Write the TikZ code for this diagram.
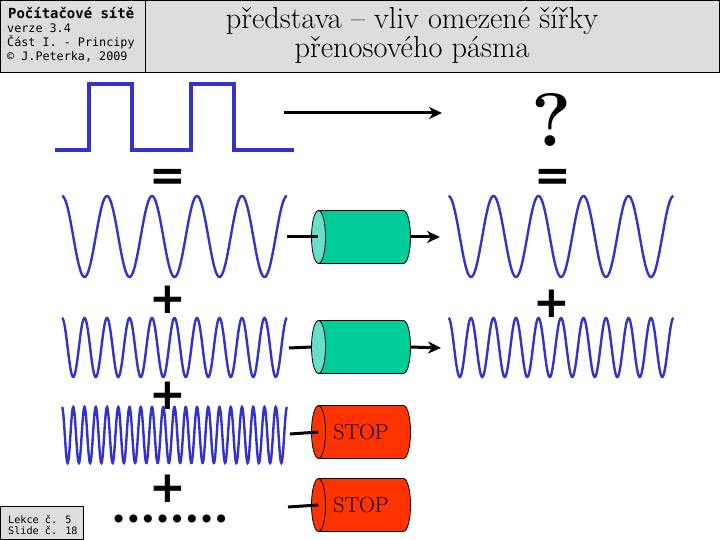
\documentclass[tikz,border=0pt]{standalone}
\usepackage{fontspec}
\usetikzlibrary{arrows.meta,positioning,calc}
\newfontfamily\monofont{DejaVu Sans Mono}
\newfontfamily\signfont{DejaVu Sans}
\definecolor{hdrgray}{HTML}{DDDDDD}
\definecolor{wave}{HTML}{3333CC}
\definecolor{pipe}{HTML}{00CC99}
\definecolor{pipeend}{HTML}{66E0C8}
\definecolor{stopred}{HTML}{FF3300}

\tikzset{
  hdrbox/.style={draw=black, line width=1.2bp, fill=hdrgray, inner sep=0pt},
  hdrline/.style={anchor=base west, inner sep=0pt, font=\monofont\fontsize{11.8}{14}\selectfont},
  titleline/.style={anchor=base, inner sep=0pt, font=\fontsize{30.5}{30}\selectfont},
  sqwave/.style={draw=wave, line width=3.3bp},
  sinwave/.style={draw=wave, line width=2.4bp},
  sign/.style={font=\signfont\bfseries\fontsize{44}{44}\selectfont, inner sep=0pt},
  pipeline/.style={draw=black, line width=0.8bp},
  chanlabel/.style={inner sep=0pt, minimum width=99bp, minimum height=53bp,
    font=\fontsize{22}{22}\selectfont},
  feed/.style={line width=3bp},
  pass/.style={line width=3bp, -{Stealth[length=13bp,width=12bp,inset=4bp]}},
}

% cylinder: name, centre, body colour, end colour, label
\newcommand{\channel}[5]{%
  \filldraw[pipeline, fill=#3] ($(#2)+(-42.5bp,26.5bp)$) -- ++(85bp,0)
    arc[start angle=90, end angle=-90, x radius=7bp, y radius=26.5bp]
    -- ++(-85bp,0) -- cycle;
  \filldraw[pipeline, fill=#4] ($(#2)+(-42.5bp,0)$) ellipse[x radius=7bp, y radius=26.5bp];
  \node[chanlabel] (#1) at (#2) {#5};
}

\begin{document}
\begin{tikzpicture}[x=1bp, y=-1bp]
  \useasboundingbox (0,0) rectangle (720,540);

  % header
  \node[hdrbox, anchor=north west, minimum width=145bp, minimum height=72bp] (course) at (0,0) {};
  \node[hdrbox, anchor=north west, minimum width=574bp, minimum height=72bp] (titlebox) at (145,0) {};
  \node[hdrline, font=\monofont\bfseries\fontsize{14}{14}\selectfont] (coursea) at (8,18.3) {Počítačové sítě};
  \node[hdrline] (courseb) at (7,33) {verze 3.4};
  \node[hdrline] (coursec) at (7,46.7) {Část I. - Principy};
  \node[hdrline] (coursed) at (7,60.7) {© J.Peterka, 2009};
  \node[titleline] (titlea) at (412,28.5) {představa -- vliv omezené šířky};
  \node[titleline] (titleb) at (412,57.5) {přenosového pásma};

  % footer
  \node[hdrbox, anchor=south west, minimum width=83bp, minimum height=33bp] (slide) at (0,540) {};
  \node[hdrline, font=\monofont\fontsize{10.2}{10}\selectfont] (slidea) at (8,523) {Lekce č. 5};
  \node[hdrline, font=\monofont\fontsize{10.2}{10}\selectfont] (slideb) at (8,534) {Slide č. 18};

  % square signal
  \draw[sqwave] (55,150) -- (89,150) -- (89,84) -- (132,84) -- (132,150)
    -- (191,150) -- (191,84) -- (234,84) -- (234,150) -- (294,150);
  \coordinate (sendfrom) at (284,113);
  \coordinate (sendto) at (442,113);
  \draw[pass] (sendfrom) -- (sendto);
  \node[inner sep=0pt, font=\bfseries\fontsize{76}{76}\selectfont] (unknown) at (552,120) {?};

  \node[sign] (eqleft) at (168,180) {=};
  \node[sign] (eqright) at (553,180) {=};

  % harmonics
  \draw[sinwave] plot[domain=62:287, samples=250, smooth] (\x, {236.5-40.5*cos((\x-62)*8)});
  \draw[sinwave] plot[domain=448.5:673.5, samples=250, smooth] (\x, {236.5-40.5*cos((\x-448.5)*8)});
  \node[sign] (plusa) at (168,300) {+};
  \node[sign] (plusright) at (552,304) {+};
  \draw[sinwave] plot[domain=62:287, samples=400, smooth] (\x, {347.5-29.5*cos((\x-62)*16)});
  \draw[sinwave] plot[domain=448.5:673.5, samples=400, smooth] (\x, {347.5-29.5*cos((\x-448.5)*16)});
  \node[sign] (plusb) at (168,396) {+};
  \draw[sinwave] plot[domain=62:287, samples=600, smooth] (\x, {435-28*cos((\x-62)*32)});
  \node[sign] (plusc) at (168,489) {+};
  \node[inner sep=0pt, font=\signfont\bfseries\fontsize{23}{23}\selectfont] (more) at (170,521) {••••••••};

  % channel
  \channel{pipea}{361,237}{pipe}{pipeend}{}
  \channel{pipeb}{361,347}{pipe}{pipeend}{}
  \channel{stopa}{361,432}{stopred}{stopred}{STOP}
  \channel{stopb}{361,505}{stopred}{stopred}{STOP}

  \coordinate (ina) at (287,237);
  \coordinate (inb) at (289,348);
  \coordinate (inc) at (290,434);
  \coordinate (ind) at (288,507);
  \coordinate (outa) at (440,237);
  \coordinate (outb) at (441,348);
  \draw[feed] (ina) -- ([xshift=7bp]pipea.west);
  \draw[feed] (inb) -- (pipeb.west);
  \draw[feed] (inc) -- ([xshift=7bp]stopa.west);
  \draw[feed] (ind) -- ([xshift=7bp]stopb.west);
  \draw[pass] (pipea.east) -- (outa);
  \draw[pass] (pipeb.east) -- (outb);
\end{tikzpicture}
\end{document}
